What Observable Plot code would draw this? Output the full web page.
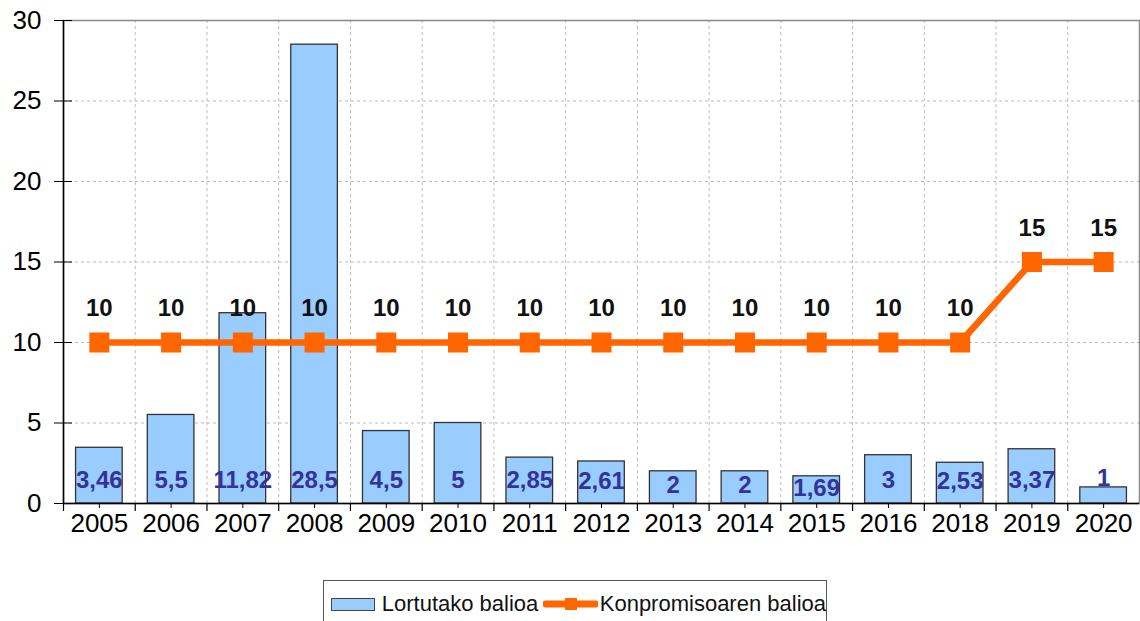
<!DOCTYPE html>
<html><head><meta charset="utf-8">
<script src="https://cdn.jsdelivr.net/npm/d3@7"></script>
<script src="https://cdn.jsdelivr.net/npm/@observablehq/plot@0.6"></script>
<style>
body{margin:0;background:#fff;font-family:"Liberation Sans",Arial,sans-serif;}
#chart{position:absolute;left:0;top:0;}
#legend{position:absolute;left:323px;top:580px;width:504px;height:48px;border:1px solid #555;box-sizing:border-box;display:flex;align-items:center;font-size:22px;color:#111;white-space:nowrap;}
#legend .sw{display:inline-block;width:43px;height:11px;background:#99ccff;border:1px solid #444;margin-left:7px;margin-right:7px;}
#legend svg{margin-left:5px;margin-right:2px;}
</style></head><body>
<div id="chart"></div>
<div id="legend"><span class="sw"></span><span>Lortutako balioa</span><svg width="56" height="14"><line x1="3" y1="7" x2="53" y2="7" stroke="#ff6600" stroke-width="7" stroke-linecap="round"/><rect x="22" y="1" width="12" height="12" fill="#ff6600"/></svg><span>Konpromisoaren balioa</span></div>
<script>
const years = ["2005","2006","2007","2008","2009","2010","2011","2012","2013","2014","2015","2016","2018","2019","2020"];
const achieved = [3.46, 5.5, 11.82, 28.5, 4.5, 5, 2.85, 2.61, 2, 2, 1.69, 3, 2.53, 3.37, 1];
const commitment = [10, 10, 10, 10, 10, 10, 10, 10, 10, 10, 10, 10, 10, 15, 15];
const yTicks = [0, 5, 10, 15, 20, 25, 30];

const data = years.map((year, i) => ({year, achieved: achieved[i], commitment: commitment[i]}));
const W = 1140, H = 570, mL = 63, mR = 1, mT = 20, mB = 67;
const step = (W - mL - mR) / years.length;
const fmt = v => String(v).replace(".", ",");
const labelY = v => v >= 1.5 ? Math.min(1.45, v / 2 + 0.1) : 1.55;

const chart = Plot.plot({
  width: W, height: H,
  marginLeft: mL, marginRight: mR, marginTop: mT, marginBottom: mB,
  style: {fontFamily: "'Liberation Sans', Arial, sans-serif", fontSize: "26px", color: "#000", background: "#fff"},
  x: {type: "band", domain: years, paddingInner: 0.35, paddingOuter: 0.175, round: false, label: null},
  y: {domain: [0, 30], label: null},
  marks: [
    Plot.ruleY(yTicks.slice(1, -1), {stroke: "#bbb", strokeDasharray: "3,3"}),
    Plot.ruleX(years.slice(1), {dx: -step / 2, stroke: "#bbb", strokeDasharray: "3,3"}),
    Plot.frame({stroke: "#888", strokeWidth: 1.5}),
    Plot.barY(data, {x: "year", y: "achieved", fill: "#99ccff", stroke: "#333", strokeWidth: 1.3}),
    Plot.text(data, {x: "year", y: d => labelY(d.achieved), text: d => fmt(d.achieved), fill: "#333399", fontWeight: "bold", fontSize: 24}),
    Plot.line(data, {x: "year", y: "commitment", stroke: "#ff6600", strokeWidth: 6.5}),
    Plot.dot(data, {x: "year", y: "commitment", symbol: "square", r: 11.3, fill: "#ff6600"}),
    Plot.text(data, {x: "year", y: "commitment", text: d => fmt(d.commitment), dy: -34, fill: "#111", fontWeight: "bold", fontSize: 24}),
    Plot.ruleX(["2005"], {dx: -step / 2, stroke: "#000", strokeWidth: 1.5}),
    Plot.ruleY([0], {stroke: "#000", strokeWidth: 1.5}),
    Plot.ruleX(years, {dx: -step / 2, y1: 0, y2: 0, insetBottom: -8, stroke: "#000", strokeWidth: 1.2}),
    Plot.axisX({tickSize: 5, tickPadding: 5, fontSize: 26}),
    Plot.axisY({ticks: yTicks, tickSize: 18, dx: 9, tickPadding: 13, fontSize: 26})
  ]
});
document.getElementById("chart").append(chart);
</script>
</body></html>
